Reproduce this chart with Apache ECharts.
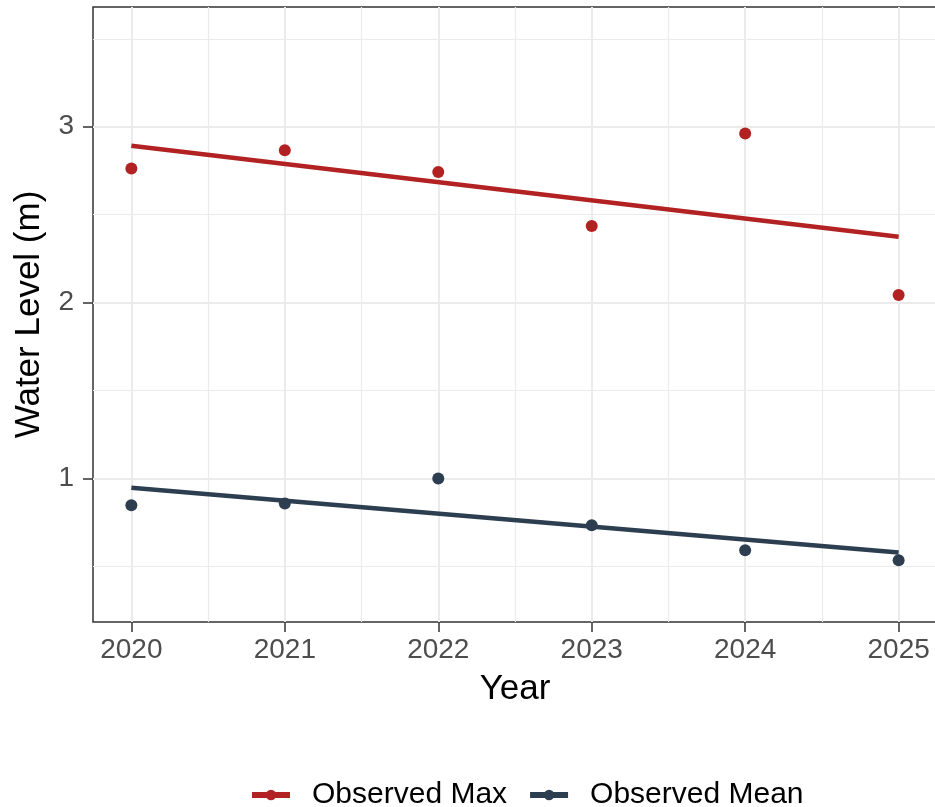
<!DOCTYPE html>
<html>
<head>
<meta charset="utf-8">
<script src="https://cdn.jsdelivr.net/npm/echarts@6/dist/echarts.min.js"></script>
<style>
  html, body { margin: 0; padding: 0; background: #fff; overflow: hidden; }
  #chart { width: 937px; height: 807px; }
</style>
</head>
<body>
<div id="chart"></div>
<script>
// data
const years = [2020, 2021, 2022, 2023, 2024, 2025];
const obsMax = [2.763, 2.867, 2.742, 2.435, 2.962, 2.043];
const obsMean = [0.848, 0.858, 1.0, 0.734, 0.592, 0.535];
// fitted trend lines, endpoints at first and last year
const trendYears = [2020, 2025];
const trendMax = [2.892, 2.374];
const trendMean = [0.947, 0.579];
// axis ticks
const xTicks = [2020, 2021, 2022, 2023, 2024, 2025];
const xMinor = [2020.5, 2021.5, 2022.5, 2023.5, 2024.5];
const yTicks = [1, 2, 3];
const yMinor = [0.5, 1.5, 2.5, 3.5];

const redCol = '#B22222';
const blueCol = '#2C3E50';
const font = 'Liberation Sans, Arial, Helvetica, sans-serif';

const pairs = (xs, ys) => xs.map((x, i) => [x, ys[i]]);

// the plot panel runs a couple of pixels past the right edge of the window
const chart = echarts.init(document.getElementById('chart'));

const xRange = { min: 2019.75, max: 2025.25 };
const yRange = { min: 0.1835, max: 3.681 };

chart.setOption({
    animation: false,
    backgroundColor: '#fff',
    textStyle: { fontFamily: font },
    grid: {
        left: 93, top: 7, right: 0, bottom: 185,
        show: true, borderColor: '#333333', borderWidth: 1.5,
        containLabel: false
    },
    legend: {
        left: 249, top: 780, padding: 0,
        itemWidth: 38, itemHeight: 13, itemGap: 20,
        lineStyle: { width: 6 },
        textStyle: { fontSize: 30, color: '#000', padding: [0, 0, 0, 17] },
        data: ['Observed Max', 'Observed Mean']
    },
    xAxis: [{
        type: 'value', min: xRange.min, max: xRange.max,
        name: 'Year', nameLocation: 'middle', nameGap: 50,
        nameTextStyle: { fontSize: 35, color: '#000' },
        axisLine: { show: false },
        axisTick: { show: true, length: 10, customValues: xTicks, lineStyle: { color: '#333333', width: 1.5 } },
        axisLabel: { customValues: xTicks, fontSize: 28, color: '#4D4D4D', margin: 14, formatter: v => String(v) },
        splitLine: { show: true, lineStyle: { color: '#EBEBEB', width: 2 } }
    }, {
        type: 'value', min: xRange.min, max: xRange.max, position: 'bottom',
        axisLine: { show: false },
        axisTick: { show: false, customValues: xMinor },
        axisLabel: { show: false, customValues: xMinor },
        splitLine: { show: true, lineStyle: { color: '#EBEBEB', width: 1.2 } }
    }],
    yAxis: [{
        type: 'value', min: yRange.min, max: yRange.max,
        name: 'Water Level (m)', nameLocation: 'middle', nameGap: 46,
        nameTextStyle: { fontSize: 35, color: '#000' },
        axisLine: { show: false },
        axisTick: { show: true, length: 10, customValues: yTicks, lineStyle: { color: '#333333', width: 1.5 } },
        axisLabel: { customValues: yTicks, fontSize: 28, color: '#4D4D4D', margin: 19 },
        splitLine: { show: true, lineStyle: { color: '#EBEBEB', width: 2 } }
    }, {
        type: 'value', min: yRange.min, max: yRange.max, position: 'left',
        axisLine: { show: false },
        axisTick: { show: false, customValues: yMinor },
        axisLabel: { show: false, customValues: yMinor },
        splitLine: { show: true, lineStyle: { color: '#EBEBEB', width: 1.2 } }
    }],
    series: [
        {
            name: 'Observed Max', type: 'line',
            data: pairs(trendYears, trendMax),
            showSymbol: false, symbol: 'circle',
            lineStyle: { color: redCol, width: 4.5 },
            itemStyle: { color: redCol }
        },
        {
            name: 'Observed Mean', type: 'line',
            data: pairs(trendYears, trendMean),
            showSymbol: false, symbol: 'circle',
            lineStyle: { color: blueCol, width: 4.5 },
            itemStyle: { color: blueCol }
        },
        {
            name: 'Observed Max', type: 'scatter',
            data: pairs(years, obsMax),
            symbolSize: 12,
            itemStyle: { color: redCol, opacity: 1 }
        },
        {
            name: 'Observed Mean', type: 'scatter',
            data: pairs(years, obsMean),
            symbolSize: 12,
            itemStyle: { color: blueCol, opacity: 1 }
        }
    ]
});
</script>
</body>
</html>
